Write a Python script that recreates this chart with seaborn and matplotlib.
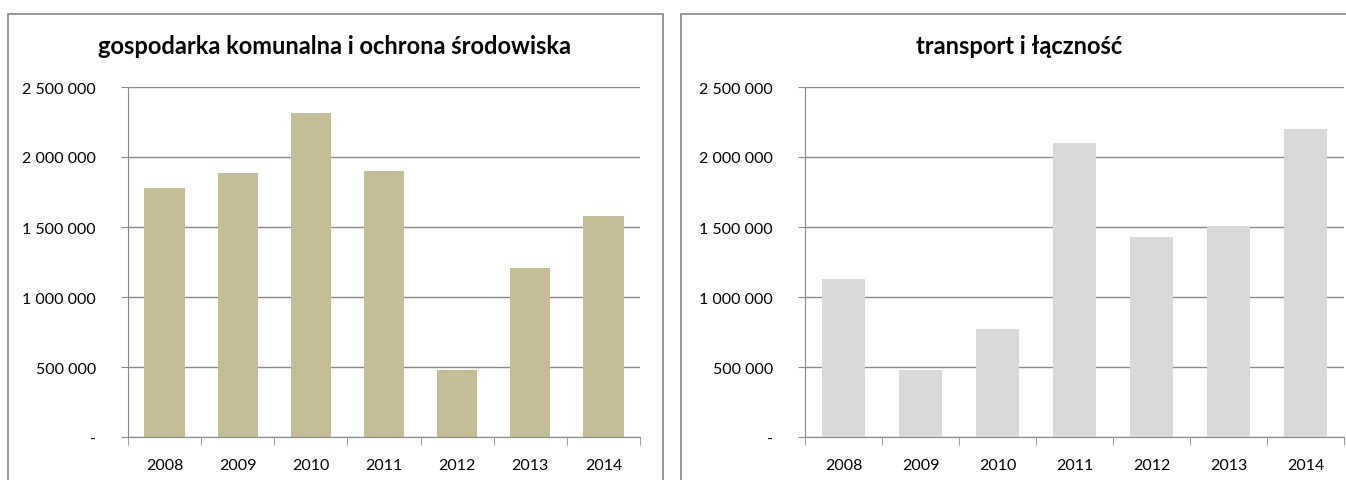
import matplotlib
matplotlib.use("Agg")
import matplotlib.pyplot as plt
import matplotlib.ticker as mticker
from matplotlib.patches import Rectangle
import pandas as pd
import seaborn as sns

# data
years = ["2008", "2009", "2010", "2011", "2012", "2013", "2014"]
komunalna = [1781000, 1886000, 2314000, 1898000, 476000, 1205000, 1581000]
transport = [1126000, 479000, 769000, 2098000, 1426000, 1510000, 2200000]
titles = ["gospodarka komunalna i ochrona środowiska", "transport i łączność"]
colors = ["#C4BD97", "#D9D9D9"]
yticks = [0, 500000, 1000000, 1500000, 2000000, 2500000]

sns.set_style("white")
plt.rcParams['font.family'] = ['Lato', 'DejaVu Sans']
plt.rcParams['text.color'] = 'black'
plt.rcParams['xtick.color'] = 'black'
plt.rcParams['ytick.color'] = 'black'

grid_col = "#898989"


def fmt(v, pos):
    if v == 0:
        return "-"
    return f"{int(v):,}".replace(",", " ")


fig = plt.figure(figsize=(13.46, 4.81), dpi=100)

# chart frames
fig.patches.append(Rectangle((8 / 1346, -0.1), 655 / 1346, 1 - 15 / 481 + 0.1,
                             transform=fig.transFigure, fill=False,
                             edgecolor="#868686", lw=1.2))
fig.patches.append(Rectangle((681 / 1346, -0.1), 700 / 1346, 1 - 15 / 481 + 0.1,
                             transform=fig.transFigure, fill=False,
                             edgecolor="#868686", lw=1.2))

ax_pos = [[128 / 1346, 1 - 438 / 481, 512 / 1346, 350 / 481],
          [805 / 1346, 1 - 438 / 481, 539 / 1346, 350 / 481]]
title_x = [335 / 1346, 1019 / 1346]

for i, vals in enumerate([komunalna, transport]):
    ax = fig.add_axes(ax_pos[i])
    df = pd.DataFrame({"rok": years, "wartosc": vals})
    sns.barplot(data=df, x="rok", y="wartosc", color=colors[i], width=0.55,
                saturation=1, linewidth=0, ax=ax)
    ax.set_xlim(-0.5, 6.5)
    ax.set_ylim(0, 2500000)
    ax.set_yticks(yticks)
    ax.yaxis.set_major_formatter(mticker.FuncFormatter(fmt))
    ax.set_xlabel("")
    ax.set_ylabel("")
    ax.grid(axis="y", color=grid_col, lw=1)
    ax.set_axisbelow(True)
    for s in ["top", "right"]:
        ax.spines[s].set_visible(False)
    ax.spines["left"].set_color(grid_col)
    ax.spines["bottom"].set_color(grid_col)
    ax.tick_params(axis="y", which="major", length=5, color=grid_col, left=True,
                   labelsize=11.5, pad=18)
    ax.tick_params(axis="x", which="major", length=0, labelsize=11.5, pad=15)
    ax.set_xticks([x + 0.5 for x in range(-1, 7)], minor=True)
    ax.tick_params(axis="x", which="minor", length=6, color=grid_col, bottom=True)
    fig.text(title_x[i], 1 - 46 / 481, titles[i], ha="center", va="center",
             fontsize=17, fontweight="bold")

fig.savefig("out.png", dpi=100)
